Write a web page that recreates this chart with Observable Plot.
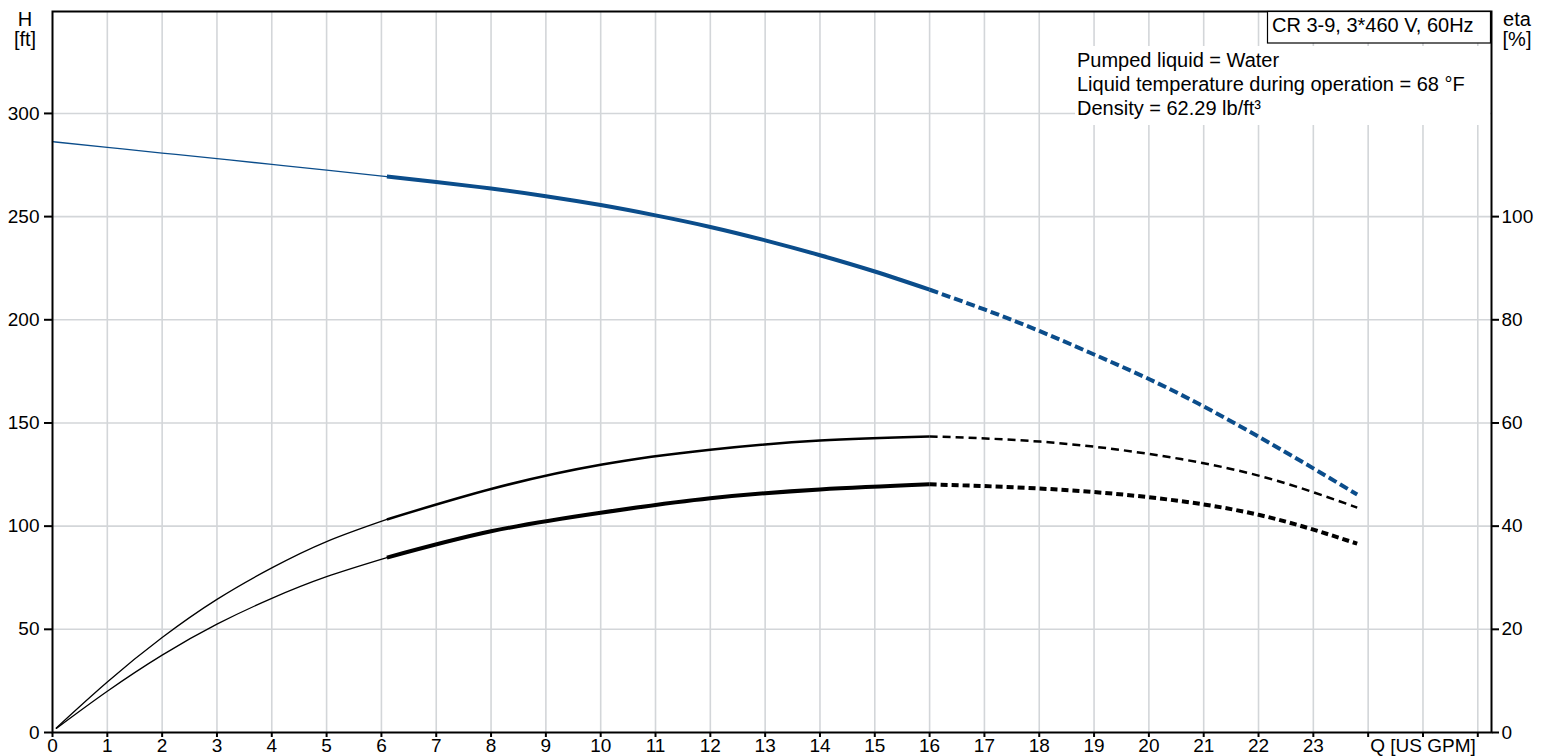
<!DOCTYPE html>
<html>
<head>
<meta charset="utf-8">
<script src="https://cdn.jsdelivr.net/npm/d3@7"></script>
<script src="https://cdn.jsdelivr.net/npm/@observablehq/plot@0.6"></script>
<style>
  html, body { margin: 0; padding: 0; background: white; }
  #chart { position: relative; width: 1565px; height: 756px; }
</style>
</head>
<body>
<div id="chart"></div>
<script>
// ---- data ----
const xTicks = [0,1,2,3,4,5,6,7,8,9,10,11,12,13,14,15,16,17,18,19,20,21,22,23,24,25,26];
const hTicks = [0,50,100,150,200,250,300];
const etaTicks = [0,20,40,60,80,100];

// Head curve H [ft] vs Q [US GPM]
const headQ = [0, 1, 2, 3, 4, 5, 6.1, 7, 8, 9, 10, 11, 12, 13, 14, 15, 16, 17, 18, 19, 20, 21, 22, 23, 23.8];
const headH = [286.3, 283.6, 280.8, 278.1, 275.3, 272.5, 269.4, 266.8, 263.6, 259.9, 255.6, 250.6, 245, 238.5, 231.3, 223.4, 214.6, 205, 194.6, 183.2, 171.3, 158, 143.4, 128, 115.3];

// Efficiency curves eta [%] vs Q
const etaQ = [0.07, 1, 2, 3, 4, 5, 6.1, 8, 10, 12, 14, 16, 18, 20, 22, 23.8];
const etaPump  = [0.9, 9.8, 18.4, 25.8, 31.9, 37.0, 41.3, 47.2, 51.9, 54.8, 56.6, 57.4, 56.4, 54, 49.8, 43.6];
const etaTotal = [0.8, 8.0, 15.0, 21.0, 26.0, 30.2, 33.9, 39, 42.6, 45.4, 47.1, 48.1, 47.3, 45.6, 42.2, 36.6];

const etaPerFt = 0.4;          // 20 % on the right axis sits at 50 ft on the left
const qLow = 6.1, qHigh = 16;   // thin | thick | dashed ranges

const infoLines = ["Pumped liquid = Water", "Liquid temperature during operation = 68 °F", "Density = 62.29 lb/ft³"];
const titleText = "CR 3-9, 3*460 V, 60Hz";

// ---- tables ----
const headRows = headQ.map((q, i) => ({q, v: headH[i]}));
const pumpRows = etaQ.map((q, i) => ({q, v: etaPump[i] / etaPerFt}));
const totRows  = etaQ.map((q, i) => ({q, v: etaTotal[i] / etaPerFt}));
const seg = (rows, lo, hi) => rows.filter(d => d.q >= lo && d.q <= hi);

const blue = "#0b4d8b";
const gridColor = "#d3d6d9";
const curve = "natural";

function lines(rows, color, wThin, wThick, dash) {
  return [
    Plot.line(seg(rows, -1, qLow), {x: "q", y: "v", curve, stroke: color, strokeWidth: wThin}),
    Plot.line(seg(rows, qLow, qHigh), {x: "q", y: "v", curve, stroke: color, strokeWidth: wThick, strokeLinecap: "butt"}),
    Plot.line(seg(rows, qHigh, 99), {x: "q", y: "v", curve, stroke: color, strokeWidth: wThick, strokeDasharray: dash, strokeLinecap: "butt"})
  ];
}

const chart = Plot.plot({
  width: 1565,
  height: 756,
  marginLeft: 52,
  marginRight: 74,
  marginTop: 11,
  marginBottom: 24,
  style: {fontFamily: "'Liberation Sans', Arial, sans-serif", fontSize: "19px", color: "black", background: "white", overflow: "visible"},
  x: {domain: [0, 26.25]},
  y: {domain: [0, 349.4]},
  marks: [
    Plot.gridX(xTicks.filter(d => d > 0), {stroke: gridColor, strokeOpacity: 1, strokeWidth: 1.6}),
    Plot.gridY(hTicks.filter(d => d > 0), {stroke: gridColor, strokeOpacity: 1, strokeWidth: 1.6}),
    ...lines(totRows, "black", 1.3, 4, "7,4"),
    ...lines(pumpRows, "black", 1.3, 2.5, "8,5"),
    ...lines(headRows, blue, 1.3, 4, "9,4"),
    Plot.axisX(xTicks, {tickSize: 5, tickPadding: 1, strokeWidth: 2, label: null,
      tickFormat: d => d <= 23 ? String(d) : (d === 25 ? "Q [US GPM]" : "")}),
    Plot.axisY(hTicks, {anchor: "left", tickSize: 8, tickPadding: 5, strokeWidth: 2, label: null}),
    Plot.axisY(etaTicks.map(e => e / etaPerFt), {anchor: "right", tickSize: 7, tickPadding: 3, strokeWidth: 2, label: null,
      tickFormat: d => String(Math.round(d * etaPerFt))}),
    Plot.frame({stroke: "black", strokeWidth: 2})
  ]
});
document.getElementById("chart").appendChild(chart);

// ---- annotations ----
const svg = d3.select(chart);
const font = "'Liberation Sans', Arial, sans-serif";
const g = svg.append("g").attr("font-family", font).attr("font-size", 20).attr("fill", "black").attr("text-anchor", "start");

// info box (white, hides grid)
g.append("rect").attr("x", 1075).attr("y", 46).attr("width", 415).attr("height", 79).attr("fill", "white");
infoLines.forEach((t, i) => {
  g.append("text").attr("x", 1077).attr("y", 67 + i * 24).attr("text-anchor", "start").text(t);
});
// title box
g.append("rect").attr("x", 1267.5).attr("y", 11.5).attr("width", 223).attr("height", 31.5)
  .attr("fill", "white").attr("stroke", "black").attr("stroke-width", 1.2);
g.append("text").attr("x", 1272).attr("y", 32).attr("text-anchor", "start").text(titleText);
// axis names
g.append("text").attr("x", 25).attr("y", 26).attr("text-anchor", "middle").text("H");
g.append("text").attr("x", 25).attr("y", 46).attr("text-anchor", "middle").text("[ft]");
g.append("text").attr("x", 1517).attr("y", 26).attr("text-anchor", "middle").text("eta");
g.append("text").attr("x", 1517).attr("y", 46).attr("text-anchor", "middle").text("[%]");
</script>
</body>
</html>
